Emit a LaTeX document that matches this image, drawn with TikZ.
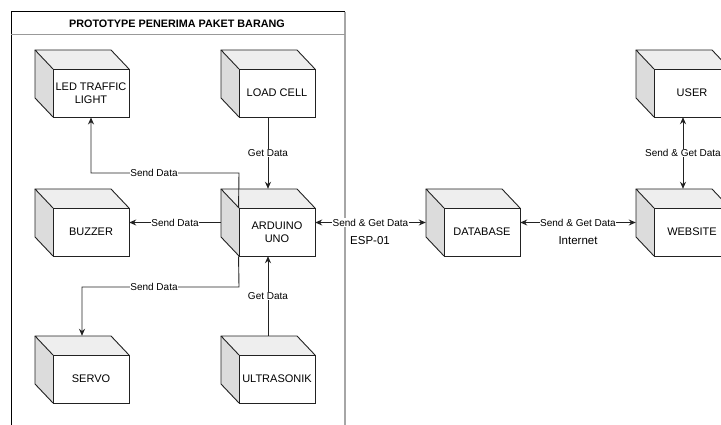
\documentclass[tikz,border=0pt]{standalone}
\usepackage{fontspec}
\setmainfont{Liberation Sans}
\usetikzlibrary{arrows.meta,calc}
\definecolor{ln}{HTML}{222222}
\definecolor{sidec}{HTML}{DCDCDC}
\definecolor{topc}{HTML}{EEEEEE}
\tikzset{
  cubeline/.style={draw=ln,line width=0.9pt,line join=round},
  front/.style={draw=ln,fill=white,line width=0.9pt,minimum width=76pt,minimum height=48pt,inner sep=0pt,align=center,font=\fontsize{11}{13}\selectfont},
  cubebb/.style={minimum width=94pt,minimum height=67pt,inner sep=0pt},
  arr/.style={draw=ln,line width=0.9pt,-{Stealth[length=7pt,width=6pt]}},
  darr/.style={draw=ln,line width=0.9pt,{Stealth[length=7pt,width=6pt]}-{Stealth[length=7pt,width=6pt]}},
  lbl/.style={fill=white,inner sep=0.5pt,font=\fontsize{10}{11}\selectfont},
  plain/.style={inner sep=0pt,font=\fontsize{11.5}{13}\selectfont}
}
\newcommand\mycube[4]{%
  \fill[sidec] (#2,#3) -- ++(-18,-19) -- ++(0,48) -- ++(18,19) -- cycle;
  \fill[topc] (#2,#3) -- ++(-18,-19) -- ++(76,0) -- ++(18,19) -- cycle;
  \draw[cubeline] (#2,#3) -- ++(-18,-19) -- ++(76,0) -- ++(18,19);
  \draw[cubeline] (#2-18,#3-19) -- ++(0,48) -- ++(18,19);
  \node[front] (#1-f) at (#2+38,#3+24) {#4};
  \node[cubebb] (#1) at (#2+29,#3+14.5) {};
}
\begin{document}
\begin{tikzpicture}[x=1pt,y=-1pt]
\useasboundingbox (0,0) rectangle (721,425);
% container
\draw[black,line width=1pt] (11,430) -- (11,12) -- (345,12);
\draw[gray!70,line width=1.6pt] (345,12) -- (345,430);
\draw[gray!80,line width=1pt] (11,35) -- (345,35);
\node[font=\bfseries\fontsize{10.8}{12}\selectfont] (title) at (177,23.5) {PROTOTYPE PENERIMA PAKET BARANG};
% cubes
\mycube{led}{53}{69}{LED TRAFFIC\\LIGHT}
\mycube{load}{239}{69}{LOAD CELL}
\mycube{buz}{53}{208}{BUZZER}
\mycube{ard}{239}{208}{ARDUINO\\UNO}
\mycube{servo}{53}{355}{SERVO}
\mycube{ultra}{239}{355}{ULTRASONIK}
\mycube{db}{444}{208}{DATABASE}
\mycube{web}{654}{208}{WEBSITE}
\mycube{user}{654}{69}{USER}
% connectors
\draw[arr] (load) -- node[lbl] (l1) {Get Data} (ard);
\draw[arr] (ultra) -- node[lbl] (l2) {Get Data} (ard);
\draw[arr] (ard) -- node[lbl] (l3) {Send Data} (buz);
\coordinate (j1) at (239,173);
\coordinate (j2) at (239,287);
\draw[arr] (ard-f.north west) -- (j1) -| (led-f.south);
\node[lbl] (l4) at (154,173) {Send Data};
\draw[arr] (ard-f.south west) -- (j2) -| (servo);
\node[lbl] (l5) at (154,287) {Send Data};
\draw[darr] (ard) -- node[lbl] (l6) {Send \& Get Data} (db);
\node[plain] (esp) at (370,241) {ESP-01};
\draw[darr] (db) -- node[lbl] (l7) {Send \& Get Data} (web);
\node[plain] (inet) at (578,241) {Internet};
\draw[darr] (user) -- node[lbl] (l8) {Send \& Get Data} (web);
\end{tikzpicture}
\end{document}
